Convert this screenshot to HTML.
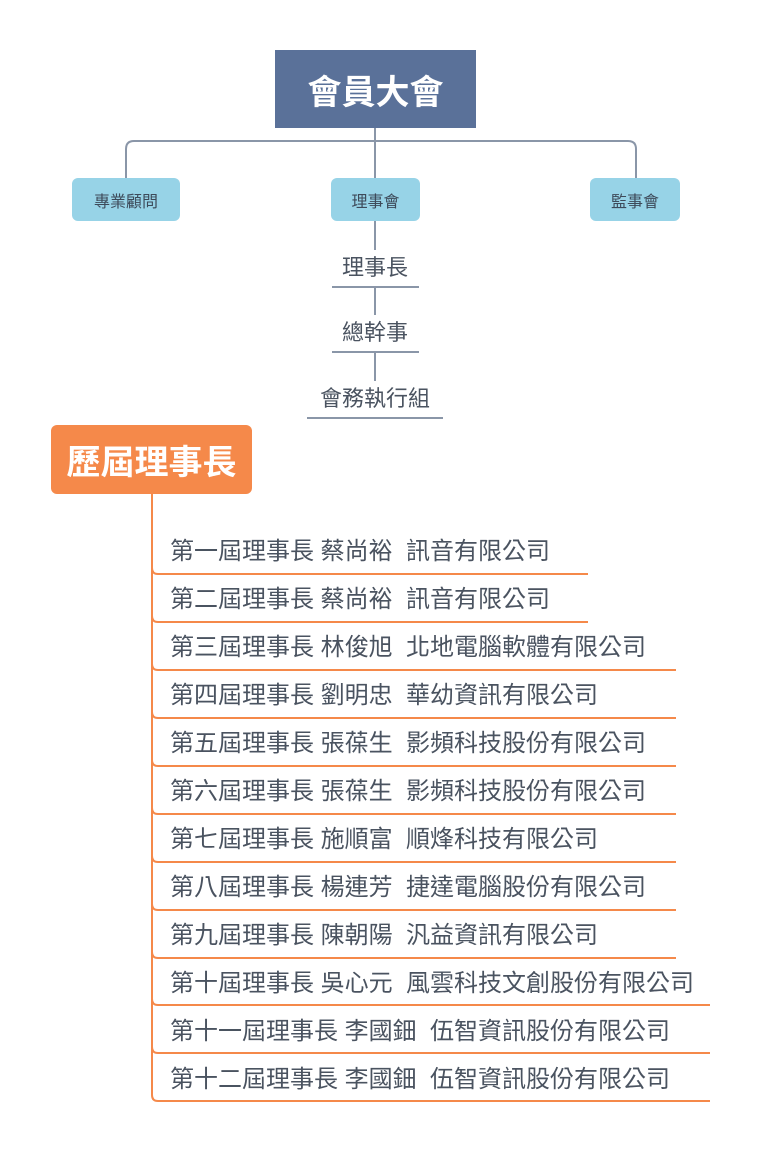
<!DOCTYPE html>
<html><head><meta charset="utf-8"><style>
body{margin:0;width:760px;height:1153px;background:#fff;position:relative;overflow:hidden;font-family:"Liberation Sans","Noto Sans CJK TC",sans-serif;}
.box{position:absolute;display:flex;align-items:center;justify-content:center;}
.lb{background:#97d3e7;border-radius:6px;color:#3d4a5a;font-size:16px;height:43px;top:178px;}
.t{position:absolute;left:0;width:750px;text-align:center;font-size:22px;color:#4a5360;}
.r{position:absolute;left:170px;font-size:24px;color:#4a5360;white-space:pre;line-height:30px;}
</style></head><body>
<svg width="760" height="1153" style="position:absolute;left:0;top:0">
<g stroke="#8a96a8" stroke-width="2" fill="none">
<path d="M126 178 V149 Q126 141 134 141 H628 Q636 141 636 149 V178"/>
<path d="M375 128 V178"/>
<path d="M375 221 V250"/>
<path d="M332 287 H419"/>
<path d="M375 287 V315"/>
<path d="M332 352 H419"/>
<path d="M375 352 V381"/>
<path d="M307 418 H443"/>
</g>
<g stroke="#f5894a" stroke-width="2" fill="none">
<path d="M152 494 V1095"/>
<path d="M152 568 Q152 574 158 574 H588"/>
<path d="M152 616 Q152 622 158 622 H588"/>
<path d="M152 664 Q152 670 158 670 H676"/>
<path d="M152 712 Q152 718 158 718 H676"/>
<path d="M152 760 Q152 766 158 766 H676"/>
<path d="M152 808 Q152 814 158 814 H676"/>
<path d="M152 856 Q152 862 158 862 H676"/>
<path d="M152 904 Q152 910 158 910 H676"/>
<path d="M152 952 Q152 958 158 958 H676"/>
<path d="M152 999 Q152 1005 158 1005 H710"/>
<path d="M152 1047 Q152 1053 158 1053 H710"/>
<path d="M152 1095 Q152 1101 158 1101 H710"/>
</g>
</svg>
<div class="box" style="left:275px;top:50px;width:201px;height:78px;background:#5a7199;color:#fff;font-size:34px;font-weight:bold;">會員大會</div>
<div class="box lb" style="left:72px;width:108px;">專業顧問</div>
<div class="box lb" style="left:331px;width:89px;">理事會</div>
<div class="box lb" style="left:590px;width:90px;">監事會</div>
<div class="t" style="top:250px;">理事長</div>
<div class="t" style="top:315px;">總幹事</div>
<div class="t" style="top:381px;">會務執行組</div>
<div class="box" style="left:51px;top:425px;width:201px;height:69px;background:#f5894a;border-radius:6px;color:#fff;font-size:34px;font-weight:bold;">歷屆理事長</div>
<div class="r" style="top:537px;">第一屆理事長 蔡尚裕  訊音有限公司</div>
<div class="r" style="top:585px;">第二屆理事長 蔡尚裕  訊音有限公司</div>
<div class="r" style="top:633px;">第三屆理事長 林俊旭  北地電腦軟體有限公司</div>
<div class="r" style="top:681px;">第四屆理事長 劉明忠  華幼資訊有限公司</div>
<div class="r" style="top:729px;">第五屆理事長 張葆生  影頻科技股份有限公司</div>
<div class="r" style="top:777px;">第六屆理事長 張葆生  影頻科技股份有限公司</div>
<div class="r" style="top:825px;">第七屆理事長 施順富  順烽科技有限公司</div>
<div class="r" style="top:873px;">第八屆理事長 楊連芳  捷達電腦股份有限公司</div>
<div class="r" style="top:921px;">第九屆理事長 陳朝陽  汎益資訊有限公司</div>
<div class="r" style="top:969px;">第十屆理事長 吳心元  風雲科技文創股份有限公司</div>
<div class="r" style="top:1017px;">第十一屆理事長 李國鈿  伍智資訊股份有限公司</div>
<div class="r" style="top:1065px;">第十二屆理事長 李國鈿  伍智資訊股份有限公司</div>
</body></html>
